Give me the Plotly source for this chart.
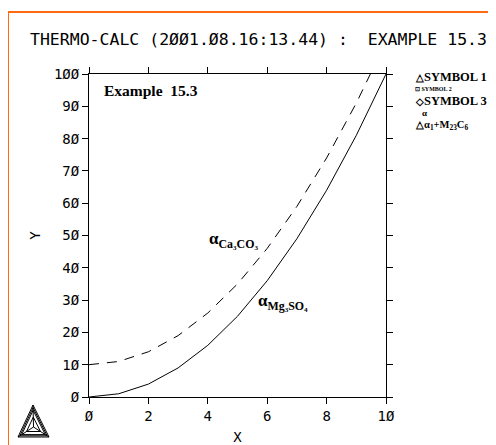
import plotly.graph_objects as go

x_vals = [0, 1, 2, 3, 4, 5, 6, 7, 8, 9, 10]
y_solid = [0, 1, 4, 9, 16, 25, 36, 49, 64, 81, 100]
y_dashed = [10, 11, 14, 19, 26, 35, 46, 59, 74, 91, 110]
x_ticks = [0, 2, 4, 6, 8, 10]
y_ticks = [0, 10, 20, 30, 40, 50, 60, 70, 80, 90, 100]

OFF = 8  # default page body margin
W, H = 496 - OFF, 445 - OFF
# plot area in reference pixel coordinates
L, R, T, B = 89, 386, 74, 397

def px(xp):
    return (xp - L) / (R - L)

def py(yp):
    return (B - yp) / (B - T)

mono = "DejaVu Sans Mono"
serif = "Liberation Serif"

fig = go.Figure()
fig.add_trace(go.Scatter(x=x_vals, y=y_solid, mode="lines",
                         line=dict(color="black", width=1), showlegend=False))
fig.add_trace(go.Scatter(x=x_vals, y=y_dashed, mode="lines",
                         line=dict(color="black", width=1, dash="10px,8px"), showlegend=False))

axis_common = dict(showline=True, linecolor="black", linewidth=1, mirror="ticks",
                   ticks="outside", ticklen=6, tickcolor="black", showgrid=False,
                   zeroline=False, automargin=False,
                   tickfont=dict(family=mono, size=14, color="black"))

fig.update_xaxes(range=[0, 10], tickvals=x_ticks, ticktext=[str(v).replace("0", "Ø") for v in x_ticks],
                 title=dict(text="X", font=dict(family=mono, size=14, color="black"), standoff=14),
                 **axis_common)
fig.update_yaxes(range=[0, 100], tickvals=y_ticks, ticktext=[str(v).replace("0", "Ø") for v in y_ticks],
                 title=dict(text="Y", font=dict(family=mono, size=14, color="black"), standoff=10),
                 **axis_common)

ann = []
def text(xp, yp, s, size, family=serif, anchor="left"):
    ann.append(dict(x=px(xp), y=py(yp), xref="paper", yref="paper", text=s, showarrow=False,
                    xanchor=anchor, yanchor="middle", font=dict(family=family, size=size, color="black")))

text(258, 40, "THERMO-CALC (2ØØ1.Ø8.16:13.44) :  EXAMPLE 15.3", 16.5, mono, "center")
text(102, 90, "<b>Example  15.3</b>", 15.5)
text(207, 240, "<b>α<sub>Ca₃CO₃</sub></b>", 17)
text(256, 302, "<b>α<sub>Mg₃SO₄</sub></b>", 17)
tri_s = '<span style="font-size:10px">△</span>'
dia_s = '<span style="font-size:10px">◇</span>'
text(413, 77, "<b>" + tri_s + "SYMBOL 1</b>", 12.5)
text(413, 89, "<b>⊡ SYMBOL 2</b>", 6)
text(413, 101, "<b>" + dia_s + "SYMBOL 3</b>", 12.5)
text(420, 113, "<b>α</b>", 9)
text(413, 125, "<b>" + tri_s + "α<sub>1</sub>+M<sub>23</sub>C<sub>6</sub></b>", 10.5)

shapes = []
# orange frame
shapes.append(dict(type="rect", xref="paper", yref="paper",
                   x0=px(8), y0=py(520), x1=px(560), y1=py(12),
                   line=dict(color="#FF6A10", width=2), fillcolor="rgba(0,0,0,0)", layer="below"))

# Thermo-Calc logo
top = (33, 405); bl = (18, 437); br = (49, 437); c = (33.5, 427)
def tri(a, b, cc):
    return "M {} {} L {} {} L {} {} Z".format(px(a[0]), py(a[1]), px(b[0]), py(b[1]), px(cc[0]), py(cc[1]))
def lerp(p, q, t):
    return (p[0] + (q[0] - p[0]) * t, p[1] + (q[1] - p[1]) * t)
for t in [0.0, 0.12, 0.24]:
    shapes.append(dict(type="path", xref="paper", yref="paper",
                       path=tri(lerp(top, c, t), lerp(bl, c, t), lerp(br, c, t)),
                       line=dict(color="black", width=1)))
for v in [top, bl, br]:
    shapes.append(dict(type="line", xref="paper", yref="paper",
                       x0=px(v[0]), y0=py(v[1]), x1=px(c[0]), y1=py(c[1]),
                       line=dict(color="black", width=1)))
shapes.append(dict(type="path", xref="paper", yref="paper",
                   path=tri(lerp(top, c, 0.55), lerp(bl, c, 0.55), lerp(br, c, 0.55)),
                   line=dict(color="black", width=1)))

fig.update_layout(width=W, height=H,
                  margin=dict(l=L - OFF, r=W - (R - OFF), t=T - OFF, b=H - (B - OFF)),
                  paper_bgcolor="white", plot_bgcolor="white",
                  annotations=ann, shapes=shapes, showlegend=False)

fig.write_html("out.html")
